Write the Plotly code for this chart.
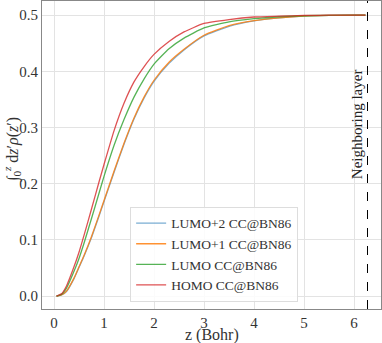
import plotly.graph_objects as go

z = [0.05, 0.15, 0.25, 0.4, 0.5, 0.6, 0.75, 0.9, 1.0, 1.2, 1.4, 1.6, 1.8, 2.0,
     2.3, 2.6, 3.0, 3.5, 4.0, 4.5, 5.0, 5.5, 6.0, 6.23]

homo = [0.0, 0.004, 0.018, 0.052, 0.078, 0.108, 0.155, 0.203, 0.234, 0.294, 0.343,
        0.381, 0.408, 0.430, 0.453, 0.470, 0.485, 0.492, 0.4965, 0.498, 0.4993,
        0.4997, 0.4999, 0.5]
lumo = [0.0, 0.003, 0.014, 0.044, 0.067, 0.094, 0.138, 0.183, 0.213, 0.268, 0.314,
        0.354, 0.386, 0.4126, 0.440, 0.459, 0.477, 0.488, 0.4935, 0.497, 0.4988,
        0.4995, 0.4999, 0.5]
lumo1 = [0.0, 0.002, 0.009, 0.032, 0.052, 0.072, 0.106, 0.144, 0.170, 0.222, 0.272,
         0.317, 0.354, 0.384, 0.416, 0.439, 0.464, 0.481, 0.490, 0.495, 0.4983,
         0.4993, 0.4998, 0.5]
lumo2 = [0.0, 0.002, 0.008, 0.031, 0.051, 0.071, 0.104, 0.142, 0.168, 0.220, 0.270,
         0.315, 0.352, 0.382, 0.414, 0.438, 0.463, 0.480, 0.4895, 0.4948, 0.4982,
         0.4993, 0.4998, 0.5]

series = [
    ("LUMO+2 CC@BN86", lumo2, "rgba(31,119,180,0.6)"),
    ("LUMO+1 CC@BN86", lumo1, "rgba(255,127,14,0.85)"),
    ("LUMO CC@BN86", lumo, "rgba(44,160,44,0.8)"),
    ("HOMO CC@BN86", homo, "rgba(214,39,40,0.8)"),
]
layer_z = 6.27
y_title = "∫<sub>0</sub><sup><i>z</i></sup> d<i>z</i>′<i>ρ</i>(<i>z</i>′)"
x_title = "z (Bohr)"

FONT = "'Liberation Serif', 'DejaVu Serif', serif"

fig = go.Figure()
for name, vals, col in series:
    fig.add_trace(go.Scatter(x=z, y=vals, mode="lines", name=name,
                             line=dict(color=col, width=1.3, shape="spline", smoothing=0.5)))

fig.add_shape(type="line", x0=layer_z, x1=layer_z, y0=0, y1=1, yref="paper", xref="x",
              line=dict(color="black", width=1, dash="dash"), layer="above")
fig.add_annotation(x=layer_z, y=0.305, text="Neighboring layer", textangle=-90,
                   showarrow=False, xanchor="right", yanchor="middle", xshift=-1,
                   font=dict(family=FONT, size=15, color="#222"))
fig.add_annotation(x=0, y=0.5, xref="paper", yref="paper", text=y_title, textangle=-90,
                   showarrow=False, xanchor="center", yanchor="middle",
                   xshift=-30, yshift=5,
                   font=dict(family=FONT, size=16, color="#333"))
fig.add_annotation(x=0.5, y=0, xref="paper", yref="paper", text=x_title,
                   showarrow=False, xanchor="center", yanchor="middle", yshift=-26,
                   font=dict(family=FONT, size=16, color="#333"))

fig.update_layout(
    width=382, height=343,
    margin=dict(l=42, r=1, t=1, b=34, autoexpand=False),
    paper_bgcolor="white", plot_bgcolor="white",
    font=dict(family=FONT, size=14, color="#333"),
    showlegend=True,
    legend=dict(x=0.26, y=0.023, xanchor="left", yanchor="bottom",
                bgcolor="rgba(255,255,255,0.85)", bordercolor="#dddddd", borderwidth=1,
                font=dict(family=FONT, size=13.5, color="#333"),
                tracegroupgap=0, itemwidth=30),
)
fig.update_xaxes(range=[-0.24, 6.54], tickvals=[0, 1, 2, 3, 4, 5, 6], automargin=False,
                 showgrid=True, gridcolor="#e3e3e3", gridwidth=1, zeroline=False,
                 showline=True, mirror=True, linecolor="#888", linewidth=1,
                 ticks="", tickfont=dict(family=FONT, size=15, color="#333"))
fig.update_yaxes(range=[-0.023, 0.525], tickvals=[0, 0.1, 0.2, 0.3, 0.4, 0.5], automargin=False,
                 tickformat=".1f", tickfont=dict(family=FONT, size=15, color="#333"),
                 showgrid=True, gridcolor="#e3e3e3", gridwidth=1, zeroline=False,
                 showline=True, mirror=True, linecolor="#888", linewidth=1,
                 ticks="")

fig.write_html("out.html", config={"displayModeBar": False},
               post_script="document.body.style.margin='0';document.body.style.padding='0';")
